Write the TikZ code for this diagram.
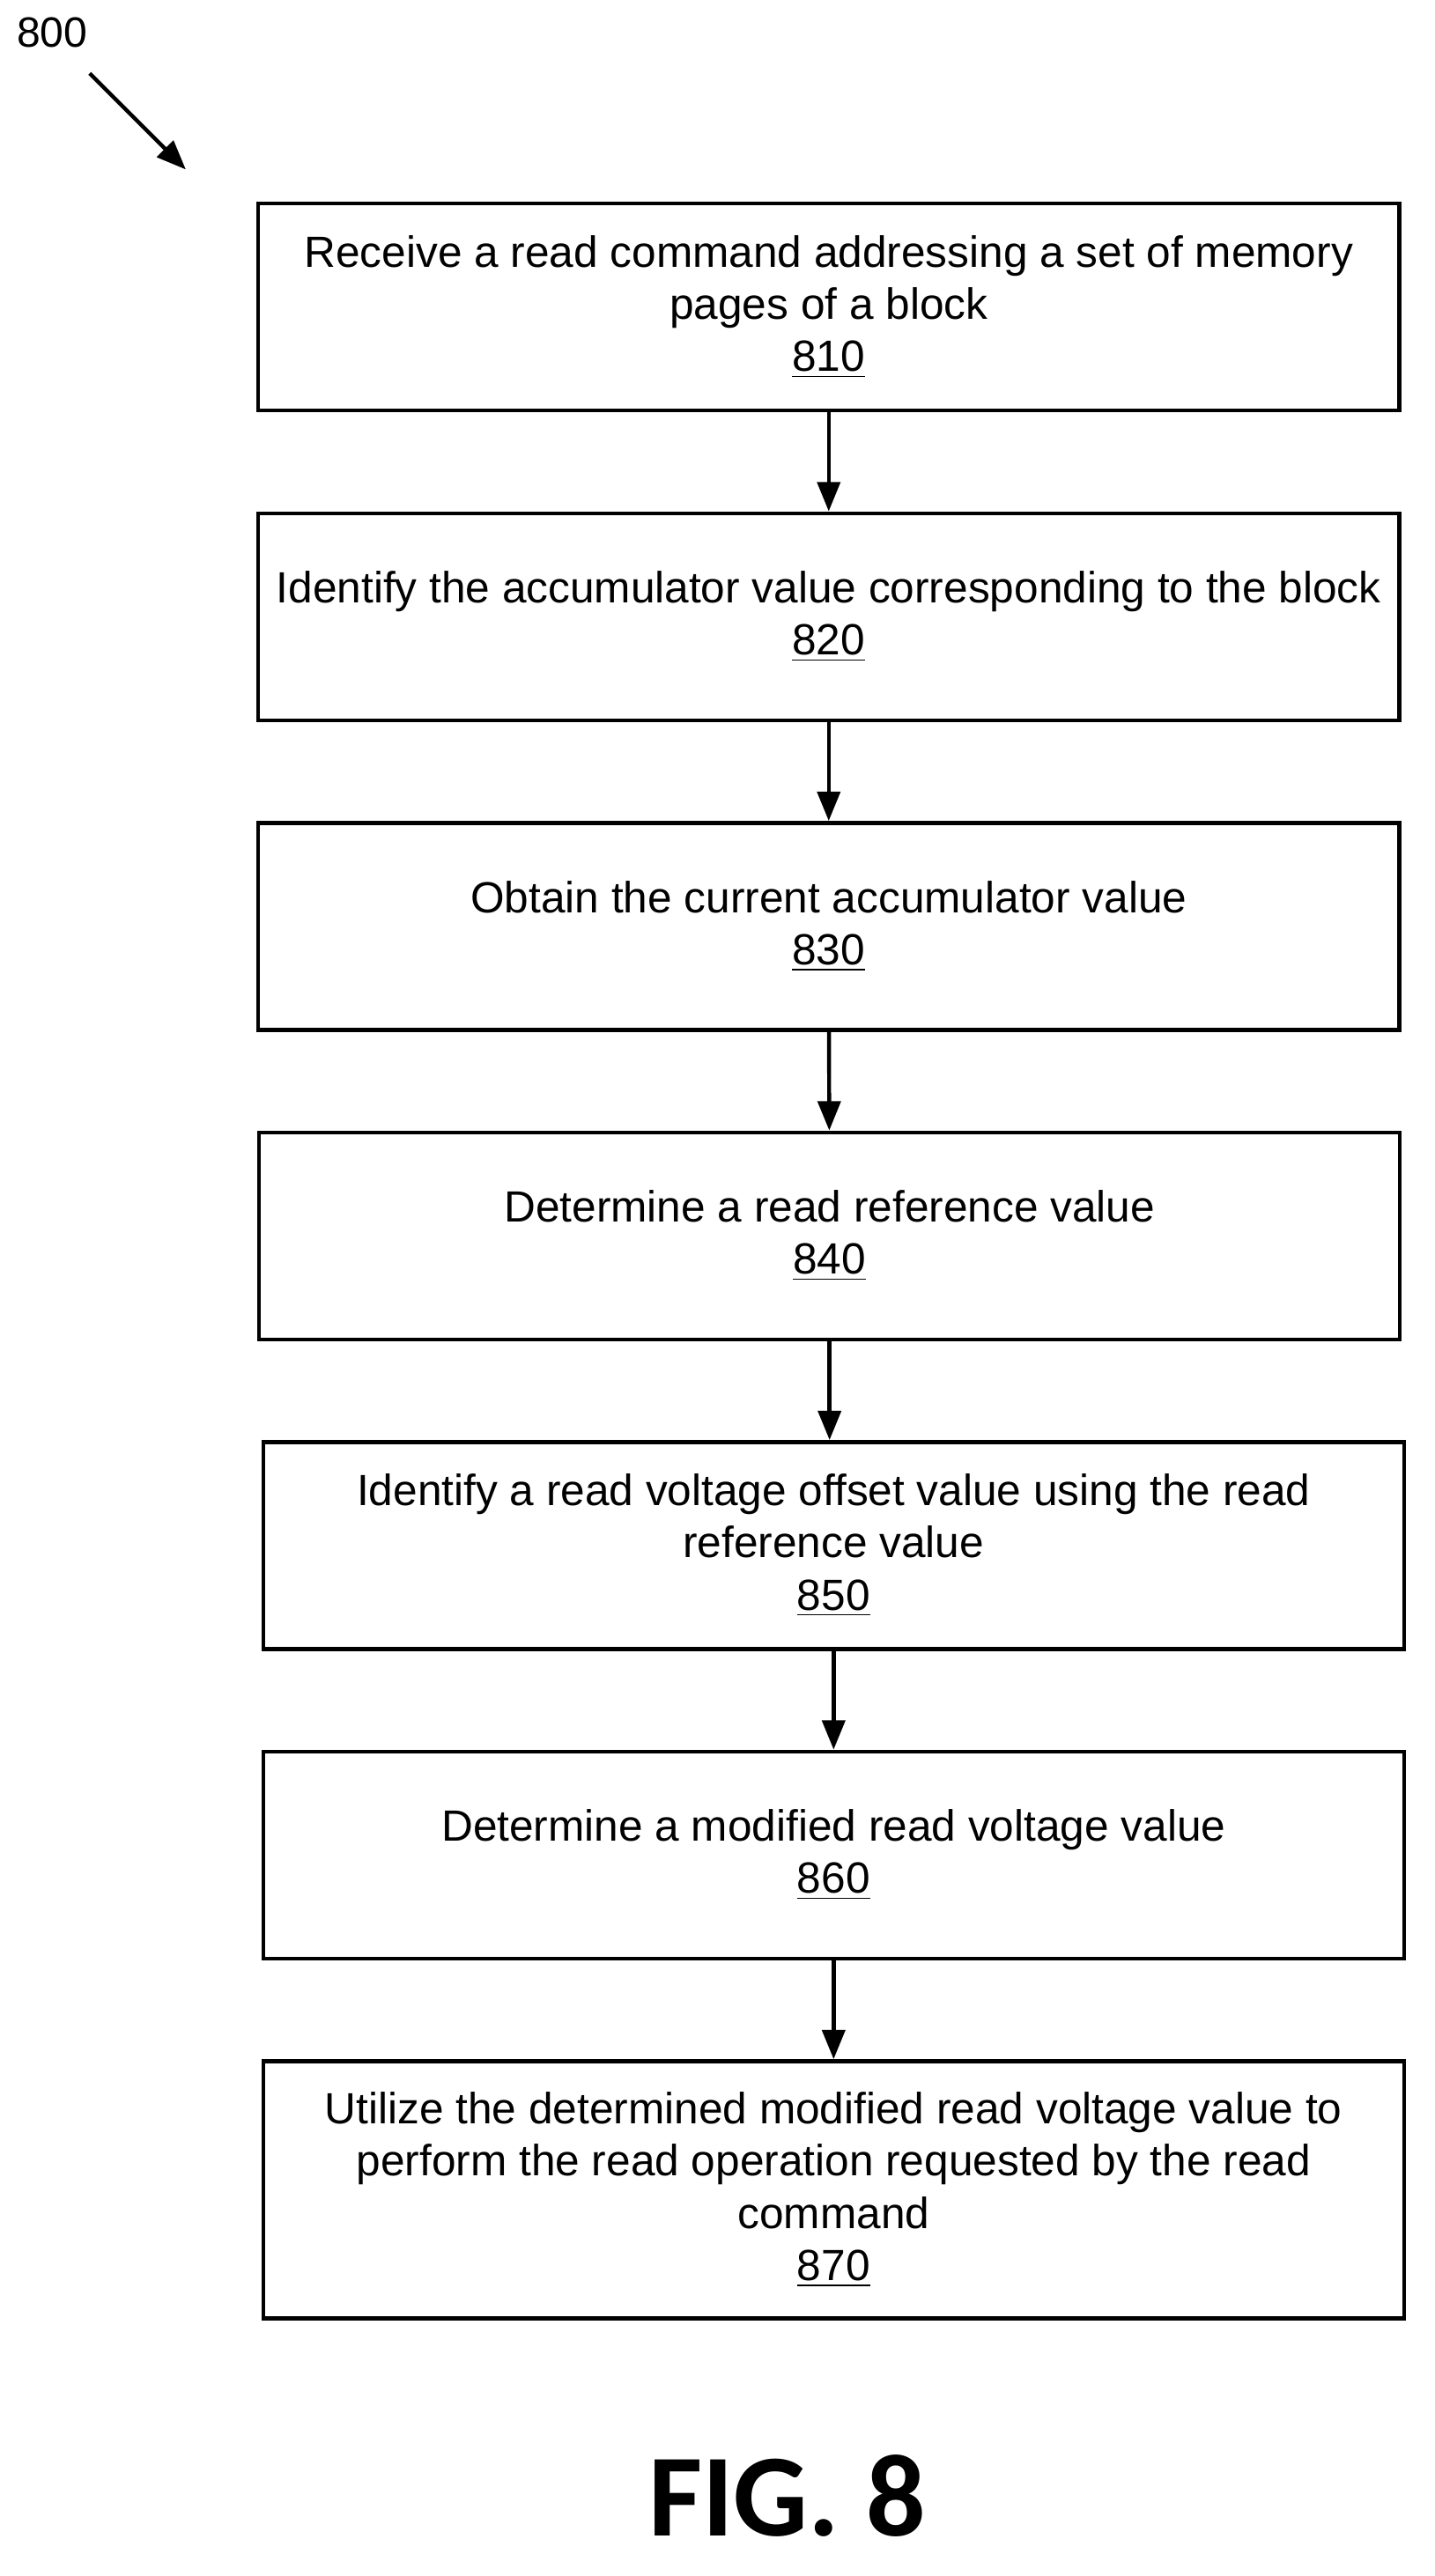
\documentclass[tikz,border=0pt]{standalone}
\usepackage{fontspec}
\setmainfont{Liberation Sans}
\newfontfamily\figfont{Carlito}
\usetikzlibrary{arrows.meta}
\begin{document}
\begin{tikzpicture}[x=0.5pt,y=-0.5pt,
  box/.style={draw,line width=1.2pt,minimum width=350pt,minimum height=63.5pt,align=center,font=\fontsize{13.4}{16}\selectfont,inner sep=0pt},
  arr/.style={-{Triangle[length=9pt,width=7pt]},line width=1.2pt}]
\useasboundingbox (0,0) rectangle (880,1581);
\node[box] (a) at (508.5,188.5) {Receive a read command addressing a set of memory\\pages of a block\\\underline{810}};
\node[box] (b) at (508.5,378.5) {Identify the accumulator value corresponding to the block\\\underline{820}};
\node[box] (c) at (508.5,568.5) {Obtain the current accumulator value\\\underline{830}};
\node[box] (d) at (509,758.5) {Determine a read reference value\\\underline{840}};
\node[box] (e) at (511.5,948.5) {Identify a read voltage offset value using the read\\reference value\\\underline{850}};
\node[box] (f) at (511.5,1138.5) {Determine a modified read voltage value\\\underline{860}};
\node[box,minimum height=79pt] (g) at (511.5,1344) {Utilize the determined modified read voltage value to\\perform the read operation requested by the read\\command\\\underline{870}};
\draw[arr] (a) -- (b);
\draw[arr] (b) -- (c);
\draw[arr] (c) -- (d);
\draw[arr] (d.south) -- (d.south|-e.north);
\draw[arr] (e) -- (f);
\draw[arr] (f) -- (g);
\node[font=\fontsize{13}{15}\selectfont] (n) at (32,20) {800};
\coordinate (s) at (55,45);
\coordinate (t) at (114,104);
\draw[arr] (s) -- (t);
\node[font=\figfont\bfseries\fontsize{36}{40}\selectfont] (fig) at (483,1532) {FIG. 8};
\end{tikzpicture}
\end{document}
